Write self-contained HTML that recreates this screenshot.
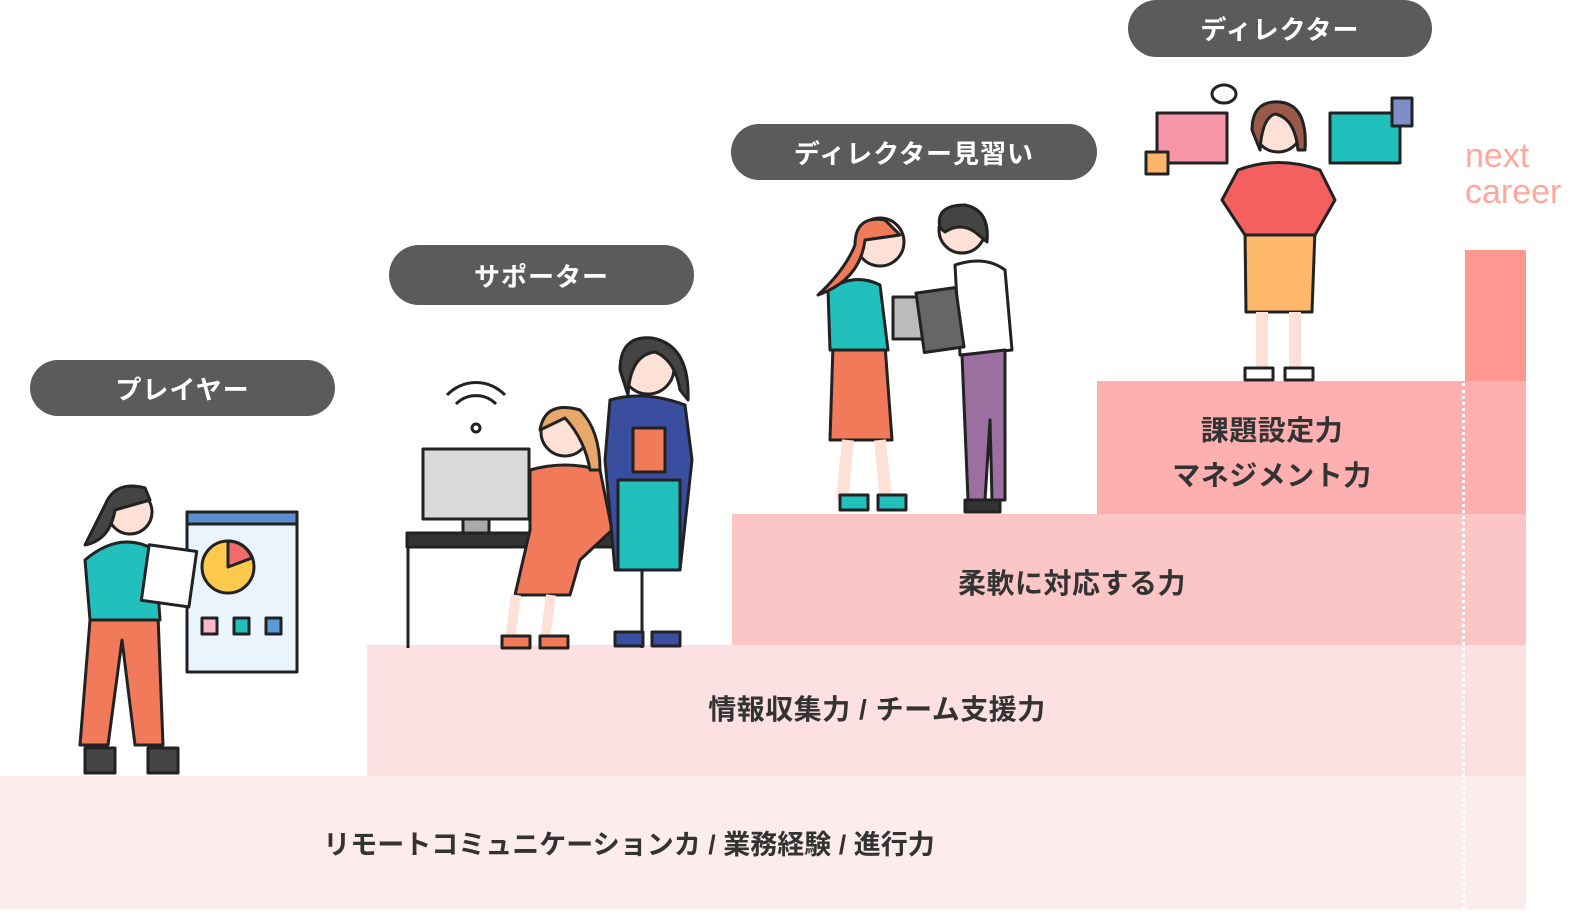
<!DOCTYPE html>
<html><head><meta charset="utf-8"><style>
html,body{margin:0;padding:0}
body{width:1580px;height:917px;position:relative;overflow:hidden;background:#fff;font-family:"Liberation Sans","Noto Sans CJK JP",sans-serif}
.b{position:absolute}
.pill{position:absolute;background:#5b5b5b;color:#fff;border-radius:30px;font-weight:bold;font-size:26px;display:flex;align-items:center;justify-content:center;letter-spacing:1px}
.t{position:absolute;color:#333;font-weight:bold;font-size:28px;text-align:center;letter-spacing:0.5px}
</style></head><body>
<div class="b" style="left:0;top:776px;width:1526px;height:133px;background:#fdecec"></div>
<div class="b" style="left:367px;top:645px;width:1159px;height:131px;background:#fde0e1"></div>
<div class="b" style="left:732px;top:514px;width:794px;height:131px;background:#fdc6c6"></div>
<div class="b" style="left:1097px;top:381px;width:429px;height:133px;background:#feb0b1"></div>
<div class="b" style="left:1465px;top:250px;width:61px;height:131px;background:#ff9990"></div>
<div class="b" style="left:1462px;top:383px;width:0;height:526px;border-left:3px dotted #fff"></div>
<div class="b" style="left:1465px;top:138px;color:#ffa79d;font-size:34px;line-height:36px">next<br>career</div>

<div class="pill" style="left:30px;top:360px;width:305px;height:56px">プレイヤー</div>
<div class="pill" style="left:389px;top:245px;width:305px;height:60px">サポーター</div>
<div class="pill" style="left:731px;top:124px;width:366px;height:56px">ディレクター見習い</div>
<div class="pill" style="left:1128px;top:0;width:304px;height:57px">ディレクター</div>

<div class="t" style="left:0;top:823px;width:1258px;letter-spacing:0;font-size:27px">リモートコミュニケーションカ / 業務経験 / 進行力</div>
<div class="t" style="left:367px;top:688px;width:1020px">情報収集力 / チーム支援力</div>
<div class="t" style="left:732px;top:562px;width:680px">柔軟に対応する力</div>
<div class="t" style="left:1097px;top:408px;width:350px;line-height:45px">課題設定力<br>マネジメント力</div>

<svg class="b" style="left:0;top:0" width="1580" height="917" stroke="#222" stroke-width="3" stroke-linejoin="round">
<rect x="187" y="512" width="110" height="160" fill="#eaf4fc"/>
<rect x="187" y="512" width="110" height="12" fill="#5b8fd0"/>
<circle cx="228" cy="567" r="26" fill="#fcc94c"/>
<path d="M228 567 V541 A26 26 0 0 1 252 558 Z" fill="#f36b6b"/>
<rect x="202" y="618" width="15" height="16" fill="#ffb6cc"/><rect x="234" y="618" width="15" height="16" fill="#22c0bd"/><rect x="266" y="618" width="15" height="16" fill="#5b9bd5"/>
<path d="M90 620 L80 745 L108 745 L122 640 L135 745 L163 745 L158 615 Z" fill="#f07a5a"/>
<path d="M85 560 Q120 530 155 550 L160 620 L90 620 Z" fill="#22c0bd"/>
<circle cx="130" cy="512" r="22" fill="#fde0d6"/>
<path d="M105 505 Q115 480 145 488 L150 500 L115 510 Q110 540 85 545 Q95 525 105 505Z" fill="#444"/>
<rect x="145" y="548" width="48" height="56" fill="#fff" transform="rotate(8 170 576)"/>
<path d="M85 748 h30 v25 h-30z M148 748 h30 v25 h-30z" fill="#444"/>
<path d="M456 404 a28 28 0 0 1 40 0 M447 395 a40 40 0 0 1 58 0" fill="none"/>
<circle cx="476" cy="428" r="4" fill="#fff"/>
<rect x="423" y="449" width="106" height="70" fill="#d9d9d9"/>
<rect x="463" y="519" width="26" height="14" fill="#aaa"/>
<rect x="407" y="533" width="236" height="14" fill="#333"/>
<path d="M408 547 V648 M642 547 V648" fill="none"/>
<path d="M530 470 Q565 460 600 470 L612 530 L580 560 L570 595 L515 595 L530 530 Z" fill="#f07a5a"/>
<circle cx="565" cy="432" r="24" fill="#fde0d6"/>
<path d="M540 430 Q545 400 580 410 Q600 430 600 470 L590 470 Q585 440 565 418 Z" fill="#e8a86a"/>
<path d="M510 640 l6 -45 M545 640 l6 -45" stroke-width="10" stroke="#fde0d6"/>
<path d="M502 636 h28 v12 h-28z M540 636 h28 v12 h-28z" fill="#f07a5a"/>
<path d="M610 400 Q645 390 685 405 L692 460 L680 570 L615 570 L605 460Z" fill="#3a4ea0"/>
<rect x="618" y="480" width="62" height="90" fill="#22c0bd"/>
<circle cx="648" cy="368" r="26" fill="#fde0d6"/>
<path d="M620 370 Q620 335 652 338 Q690 345 688 400 L680 390 Q675 360 655 352 Q630 355 628 395 Z" fill="#444"/>
<rect x="633" y="428" width="32" height="44" fill="#f07a5a"/>
<path d="M615 632 h28 v14 h-28z M652 632 h28 v14 h-28z" fill="#3a4ea0"/>
<path d="M833 345 L830 440 L892 440 L885 345Z" fill="#f07a5a"/>
<path d="M828 290 Q855 272 880 285 L888 350 L830 350Z" fill="#22c0bd"/>
<circle cx="880" cy="242" r="24" fill="#fde0d6"/>
<path d="M855 245 Q855 215 885 220 L900 235 L865 240 Q860 280 818 295 Q845 270 855 245Z" fill="#f07a5a"/>
<path d="M848 440 l-6 60 M880 440 l6 60" stroke="#fde0d6" stroke-width="12"/>
<path d="M840 495 h28 v15 h-28z M878 495 h28 v15 h-28z" fill="#22c0bd"/>
<path d="M955 265 Q985 255 1005 270 L1012 350 L960 355 Z" fill="#fff"/>
<path d="M962 355 L968 500 L985 500 L990 420 L992 500 L1005 500 L1005 350Z" fill="#9b6fa0"/>
<circle cx="962" cy="230" r="23" fill="#fde0d6"/>
<path d="M940 228 Q935 205 965 205 Q990 210 987 242 L975 232 Q960 222 945 232Z" fill="#444"/>
<rect x="893" y="297" width="32" height="42" fill="#bbb"/>
<rect x="920" y="290" width="40" height="60" fill="#666" transform="rotate(-8 940 320)"/>
<path d="M965 500 h35 v12 h-35z" fill="#333"/>
<rect x="1157" y="113" width="70" height="50" fill="#f894a8"/>
<rect x="1146" y="152" width="22" height="22" fill="#fcb46a"/>
<ellipse cx="1224" cy="94" rx="12" ry="9" fill="#fff"/>
<rect x="1330" y="113" width="70" height="50" fill="#22c0bd"/>
<rect x="1392" y="98" width="20" height="28" fill="#7d8fc8"/>
<path d="M1245 230 L1315 230 L1312 312 L1246 312Z" fill="#fdb86a"/>
<path d="M1238 170 Q1278 155 1320 170 L1335 200 L1315 235 L1245 235 L1222 200Z" fill="#f46060"/>
<circle cx="1278" cy="128" r="24" fill="#fde0d6"/>
<path d="M1252 130 Q1252 100 1280 102 Q1308 105 1305 150 L1298 150 Q1295 118 1275 114 Q1262 118 1260 150 Z" fill="#9a5a4a"/>
<path d="M1262 312 v60 M1295 312 v60" stroke="#fde0d6" stroke-width="12"/>
<path d="M1245 368 h28 v12 h-28z M1285 368 h28 v12 h-28z" fill="#fff"/>
</svg>
</body></html>
